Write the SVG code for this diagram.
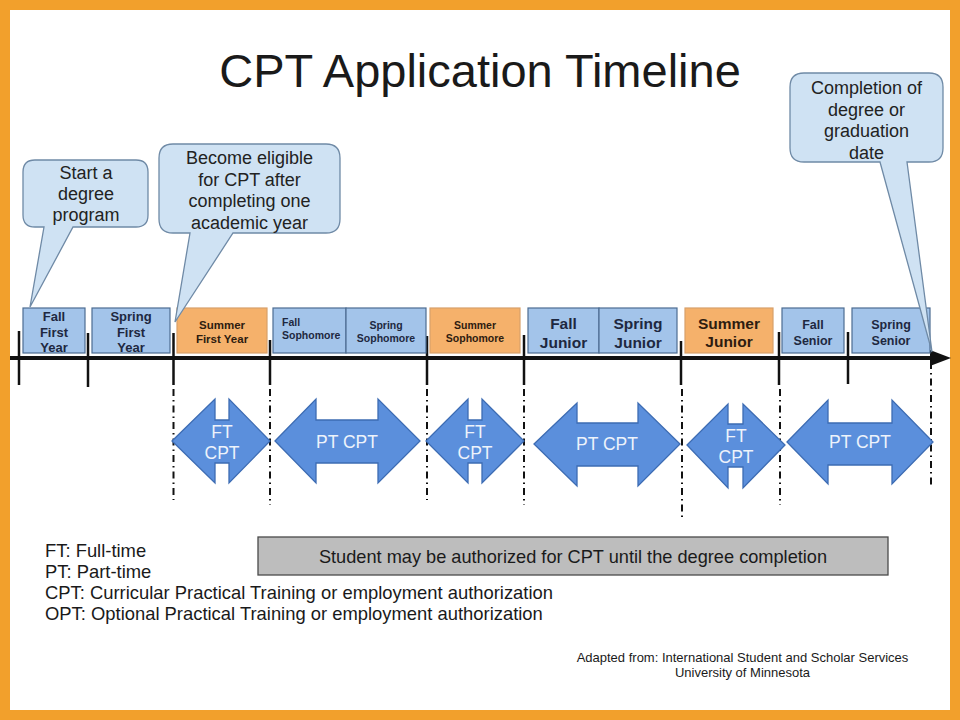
<svg xmlns="http://www.w3.org/2000/svg" width="960" height="720" viewBox="0 0 960 720">
<style>
text{font-family:"Liberation Sans",Arial,sans-serif;fill:#1a1a1a}
.term{fill:#a3c4ea;stroke:#4d6d92;stroke-width:1.2}
.summer{fill:#f5b16b;stroke:#d8a06a;stroke-width:1.2}
.tb{font-weight:bold;fill:#1e2840;text-anchor:middle}
.tl{font-weight:bold;fill:#1e2840;text-anchor:start}
.ts{font-weight:bold;fill:#2e1c10;text-anchor:middle}
.call{fill:#cfe2f3;stroke:#6f8aa6;stroke-width:1.3}
.ct{font-size:18px;text-anchor:middle;fill:#222}
.arr{fill:#5b8fdc;stroke:#3d6cb3;stroke-width:1.3}
.at{font-size:17.5px;fill:#eef3fb;text-anchor:middle}
.tick{stroke:#111;stroke-width:2.5;fill:none}
.dd{stroke:#111;stroke-width:2;stroke-dasharray:7 4 1.5 4;fill:none}
.leg{font-size:18.4px;fill:#1a1a1a}
</style>
<rect x="0" y="0" width="960" height="720" fill="#f2a02c"/>
<rect x="10" y="10" width="940" height="700" fill="#ffffff"/>
<text x="480" y="87" font-size="47" text-anchor="middle" fill="#111">CPT Application Timeline</text>

<g id="connectors">
<line x1="10" y1="358" x2="932" y2="358" stroke="#111" stroke-width="4"/>
<polygon points="930,350 951,358 930,366" fill="#111"/>
<line class="tick" x1="19" y1="331" x2="19" y2="385"/>
<line class="tick" x1="88" y1="333" x2="88" y2="387"/>
<line class="tick" x1="173.5" y1="333" x2="173.5" y2="385"/>
<line class="tick" x1="270" y1="340" x2="270" y2="385"/>
<line class="tick" x1="427" y1="336" x2="427" y2="385"/>
<line class="tick" x1="524" y1="335" x2="524" y2="385"/>
<line class="tick" x1="681" y1="341" x2="681" y2="385"/>
<line class="tick" x1="779" y1="332" x2="779" y2="385"/>
<line class="tick" x1="848" y1="332" x2="848" y2="384"/>
<line class="dd" x1="173.5" y1="389" x2="173.5" y2="500"/>
<line class="dd" x1="270" y1="389" x2="270" y2="505"/>
<line class="dd" x1="427" y1="389" x2="427" y2="500"/>
<line class="dd" x1="524" y1="389" x2="524" y2="505"/>
<line class="dd" x1="682" y1="389" x2="682" y2="517"/>
<line class="dd" x1="780" y1="389" x2="780" y2="505"/>
<line class="dd" x1="931" y1="362" x2="931" y2="486"/>
</g>

<g id="term-fall-first-year">
<rect class="term" x="23" y="308" width="62" height="45"/>
<text class="tb" font-size="13" x="54" y="321">Fall</text>
<text class="tb" font-size="13" x="54" y="337">First</text>
<text class="tb" font-size="13" x="54" y="352">Year</text>
</g>
<g id="term-spring-first-year">
<rect class="term" x="92" y="308" width="78" height="45"/>
<text class="tb" font-size="13" x="131" y="321">Spring</text>
<text class="tb" font-size="13" x="131" y="337">First</text>
<text class="tb" font-size="13" x="131" y="352">Year</text>
</g>
<g id="term-summer-first-year">
<rect class="summer" x="177" y="308" width="90" height="45"/>
<text class="ts" font-size="11.5" x="222" y="329">Summer</text>
<text class="ts" font-size="11.5" x="222" y="343">First Year</text>
</g>
<g id="term-fall-sophomore">
<rect class="term" x="273" y="308" width="73" height="45"/>
<text class="tl" font-size="10.5" x="282" y="326">Fall</text>
<text class="tl" font-size="10.5" x="282" y="339">Sophomore</text>
</g>
<g id="term-spring-sophomore">
<rect class="term" x="346" y="308" width="80" height="45"/>
<text class="tb" font-size="10.5" x="386" y="329">Spring</text>
<text class="tb" font-size="10.5" x="386" y="342">Sophomore</text>
</g>
<g id="term-summer-sophomore">
<rect class="summer" x="430" y="308" width="90" height="45"/>
<text class="ts" font-size="10.5" x="475" y="329">Summer</text>
<text class="ts" font-size="10.5" x="475" y="342">Sophomore</text>
</g>
<g id="term-fall-junior">
<rect class="term" x="528" y="308" width="71" height="45"/>
<text class="tb" font-size="15.5" x="563.5" y="328.5">Fall</text>
<text class="tb" font-size="15.5" x="563.5" y="347.5">Junior</text>
</g>
<g id="term-spring-junior">
<rect class="term" x="599" y="308" width="78" height="45"/>
<text class="tb" font-size="15.5" x="638" y="328.5">Spring</text>
<text class="tb" font-size="15.5" x="638" y="347.5">Junior</text>
</g>
<g id="term-summer-junior">
<rect class="summer" x="685" y="308" width="88" height="45"/>
<text class="ts" font-size="15.5" x="729" y="328.5">Summer</text>
<text class="ts" font-size="15.5" x="729" y="346.5">Junior</text>
</g>
<g id="term-fall-senior">
<rect class="term" x="782" y="308" width="62" height="45"/>
<text class="tb" font-size="12.5" x="813" y="328.5">Fall</text>
<text class="tb" font-size="12.5" x="813" y="344.5">Senior</text>
</g>
<g id="term-spring-senior">
<rect class="term" x="852" y="308" width="78" height="45"/>
<text class="tb" font-size="12.5" x="891" y="328.5">Spring</text>
<text class="tb" font-size="12.5" x="891" y="344.5">Senior</text>
</g>

<g id="callout-start">
<path class="call" d="M35,160 H136 Q148,160 148,172 V215 Q148,227 136,227 H73 L30,307 L44,227 H35 Q23,227 23,215 V172 Q23,160 35,160 Z"/>
<text class="ct" x="86" y="179">Start a</text>
<text class="ct" x="86" y="200">degree</text>
<text class="ct" x="86" y="221">program</text>
</g>
<g id="callout-eligible">
<path class="call" d="M173,144 H326 Q340,144 340,158 V219 Q340,233 326,233 H233 L175,322 L190,233 H173 Q159,233 159,219 V158 Q159,144 173,144 Z"/>
<text class="ct" x="249.5" y="164">Become eligible</text>
<text class="ct" x="249.5" y="185.5">for CPT after</text>
<text class="ct" x="249.5" y="207">completing one</text>
<text class="ct" x="249.5" y="228.5">academic year</text>
</g>
<g id="callout-completion">
<path class="call" d="M804,73 H929 Q943,73 943,87 V148 Q943,162 929,162 H907 L932,352 L880,162 H804 Q790,162 790,148 V87 Q790,73 804,73 Z"/>
<text class="ct" x="866.5" y="94">Completion of</text>
<text class="ct" x="866.5" y="115.5">degree or</text>
<text class="ct" x="866.5" y="137">graduation</text>
<text class="ct" x="866.5" y="158.5">date</text>
</g>

<g id="arrow-ft-1">
<polygon class="arr" points="172,441 215,399 215,420 229,420 229,399 270,441 229,483 229,463 215,463 215,483"/>
<text class="at" x="222" y="437.5">FT</text>
<text class="at" x="222" y="458.5">CPT</text>
</g>
<g id="arrow-pt-1">
<polygon class="arr" points="275,441 316,399 316,420 378,420 378,399 420,441 378,483 378,463 316,463 316,483"/>
<text class="at" x="347" y="447.5">PT CPT</text>
</g>
<g id="arrow-ft-2">
<polygon class="arr" points="426,441 468,399 468,420 482,420 482,399 524,441 482,483 482,463 468,463 468,483"/>
<text class="at" x="475" y="437.5">FT</text>
<text class="at" x="475" y="458.5">CPT</text>
</g>
<g id="arrow-pt-2">
<polygon class="arr" points="534,444 577,403 577,423 638,423 638,403 680,444 638,486 638,466 577,466 577,486"/>
<text class="at" x="607" y="449.5">PT CPT</text>
</g>
<g id="arrow-ft-3">
<polygon class="arr" points="687,445 728,404 728,424 743,424 743,404 785,445 743,488 743,467 728,467 728,488"/>
<text class="at" x="736" y="442">FT</text>
<text class="at" x="736" y="463">CPT</text>
</g>
<g id="arrow-pt-3">
<polygon class="arr" points="787,442 828,400 828,423 892,423 892,400 933,442 892,484 892,465 828,465 828,484"/>
<text class="at" x="860" y="448">PT CPT</text>
</g>

<g id="legend">
<text class="leg" x="45" y="556.5">FT: Full-time</text>
<text class="leg" x="45" y="577.5">PT: Part-time</text>
<text class="leg" x="45" y="598.5">CPT: Curricular Practical Training or employment authorization</text>
<text class="leg" x="45" y="619.5">OPT: Optional Practical Training or employment authorization</text>
</g>

<g id="authorization-bar">
<rect x="258" y="537" width="630" height="38" fill="#bdbdbd" stroke="#4a4a4a" stroke-width="1.3"/>
<text x="573" y="563" font-size="18.2" text-anchor="middle" fill="#1a1a1a">Student may be authorized for CPT until the degree completion</text>
</g>

<g id="source">
<text x="742.5" y="661.5" font-size="13" text-anchor="middle" fill="#333">Adapted from: International Student and Scholar Services</text>
<text x="742.5" y="676.5" font-size="13" text-anchor="middle" fill="#333">University of Minnesota</text>
</g>
</svg>
